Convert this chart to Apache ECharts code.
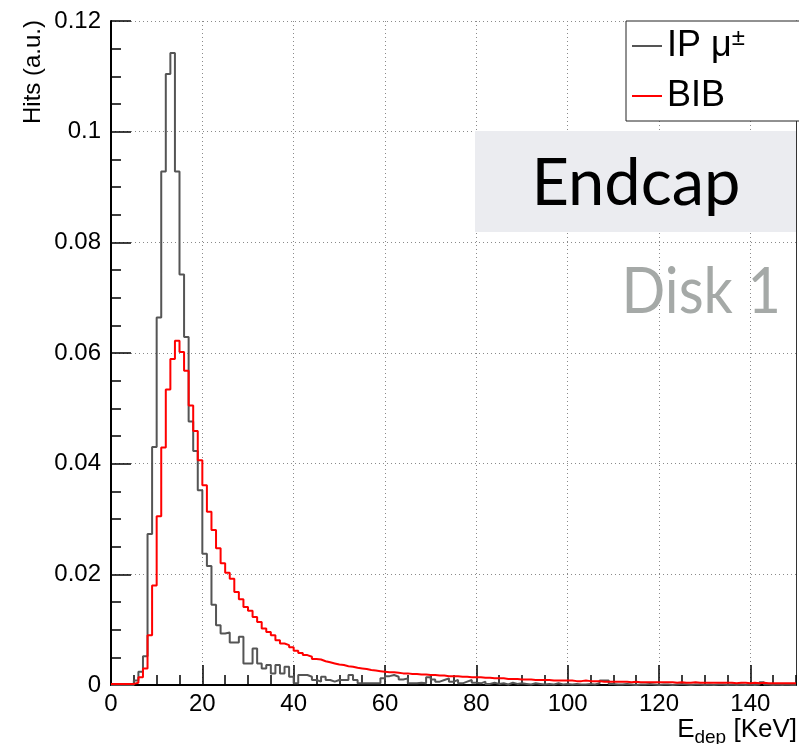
<!DOCTYPE html>
<html>
<head>
<meta charset="utf-8">
<script src="https://cdn.jsdelivr.net/npm/echarts@6/dist/echarts.min.js"></script>
<style>html,body{margin:0;padding:0;background:#fff}#c{width:799px;height:744px}</style>
</head>
<body>
<div id="c"></div>
<script>
// Bin lower edges (keV), bin width 1 keV, 0..150
const binWidth = 1;
const xTicks = [0, 20, 40, 60, 80, 100, 120, 140];
const yTicks = [0, 0.02, 0.04, 0.06, 0.08, 0.1, 0.12];
const seriesNames = ['IP μ±', 'BIB'];

// IP mu+- hits per bin (bins 0..149)
const ipValues = [
  0, 0, 0, 0, 0, 0.0008, 0.0024, 0.0052, 0.0273, 0.0430,
  0.0664, 0.0928, 0.1104, 0.1142, 0.0928, 0.0742, 0.0629, 0.0476, 0.0423, 0.0352,
  0.0237, 0.0215, 0.0145, 0.0108, 0.0093, 0.0095, 0.0077, 0.0077, 0.0087, 0.0039,
  0.0039, 0.0066, 0.0039, 0.0030, 0.0036, 0.0021, 0.0036, 0.0021, 0.0033, 0.0015,
  0.0003, 0.0018, 0.0018, 0.0015, 0.0009, 0.0006, 0.0015, 0.0009, 0.0006, 0.0009,
  0.0009, 0.0009, 0.0018, 0.0009, 0.0003, 0.0003, 0.0003, 0.0003, 0.0003, 0.0012,
  0.0016, 0.0018, 0.0015, 0.0010, 0.0012, 0.0003, 0.0003, 0.0004, 0.0003, 0.0014,
  0.0010, 0.0006, 0.0009, 0.0012, 0.0006, 0.0009, 0.0003, 0.0006, 0.0009, 0.0004,
  0.0003, 0.0006, 0.0002, 0.0004, 0.0002, 0.0003, 0.0001, 0.0004, 0.0002, 0.0003,
  0.0002, 0.0001, 0.0003, 0.0002, 0.0001, 0.0002, 0.0001, 0.0003, 0.0001, 0.0002,
  0.0001, 0.0002, 0.0001, 0.0001, 0.0002, 0.0001, 0.0003, 0.0008, 0.0008, 0.0002,
  0.0001, 0.0001, 0.0002, 0.0001, 0.0000, 0.0001, 0.0001, 0.0002, 0.0001, 0.0000,
  0.0001, 0.0001, 0.0000, 0.0001, 0.0002, 0.0001, 0.0000, 0.0001, 0.0001, 0.0000,
  0.0001, 0.0000, 0.0001, 0.0001, 0.0000, 0.0001, 0.0000, 0.0001, 0.0000, 0.0001,
  0.0000, 0.0001, 0.0005, 0.0001, 0.0000, 0.0001, 0.0000, 0.0001, 0.0000, 0.0000
];

// BIB hits per bin (bins 0..149)
const bibValues = [
  0.0002, 0.0002, 0.0002, 0.0002, 0.0002, 0.0004, 0.0014, 0.0030, 0.0090, 0.0180,
  0.0305, 0.0429, 0.0534, 0.0589, 0.0622, 0.0602, 0.0568, 0.0505, 0.0459, 0.0406,
  0.0361, 0.0313, 0.0280, 0.0247, 0.0220, 0.0203, 0.0192, 0.0168, 0.0155, 0.0141,
  0.0134, 0.0123, 0.0114, 0.0102, 0.0096, 0.0090, 0.0081, 0.0075, 0.0072, 0.0068,
  0.0062, 0.0058, 0.0054, 0.0051, 0.0047, 0.0046, 0.0043, 0.0041, 0.0039, 0.0037,
  0.0036, 0.0034, 0.0033, 0.0031, 0.0030, 0.0029, 0.0027, 0.0026, 0.0025, 0.0024,
  0.0023, 0.0023, 0.0022, 0.0021, 0.0021, 0.0020, 0.0020, 0.0019, 0.0019, 0.0018,
  0.0018, 0.0017, 0.0017, 0.0016, 0.0016, 0.0016, 0.0015, 0.0015, 0.0014, 0.0014,
  0.0014, 0.0013, 0.0013, 0.0012, 0.0012, 0.0012, 0.0011, 0.0011, 0.0011, 0.0010,
  0.0010, 0.0010, 0.0009, 0.0009, 0.0009, 0.0009, 0.0008, 0.0008, 0.0008, 0.0008,
  0.0008, 0.0007, 0.0007, 0.0008, 0.0007, 0.0007, 0.0007, 0.0006, 0.0006, 0.0006,
  0.0006, 0.0006, 0.0006, 0.0005, 0.0006, 0.0005, 0.0005, 0.0005, 0.0005, 0.0005,
  0.0005, 0.0005, 0.0005, 0.0004, 0.0005, 0.0004, 0.0004, 0.0005, 0.0004, 0.0004,
  0.0004, 0.0004, 0.0004, 0.0004, 0.0004, 0.0004, 0.0003, 0.0004, 0.0004, 0.0003,
  0.0004, 0.0003, 0.0004, 0.0003, 0.0003, 0.0003, 0.0003, 0.0003, 0.0003, 0.0003
];

function toSteps(vals) {
  const pts = vals.map((v, i) => [i * binWidth, v]);
  pts.push([vals.length * binWidth, vals[vals.length - 1]]);
  return pts;
}

const FONT = '"Liberation Sans", Arial, Helvetica, sans-serif';
const chart = echarts.init(document.getElementById('c'), null, {renderer: 'canvas'});

const gridDash = {type: [1, 3], color: '#8a8a8a', width: 1};

chart.setOption({
  animation: false,
  backgroundColor: '#fff',
  grid: {left: 111, right: 3, top: 21, bottom: 59, containLabel: false},
  xAxis: [
    {
      type: 'value', min: 0, max: 150, interval: 20, position: 'bottom',
      axisLine: {show: true, onZero: false, lineStyle: {color: '#000', width: 2}},
      axisTick: {show: true, inside: true, length: 20, lineStyle: {color: '#000', width: 1.5}},
      axisLabel: {show: true, margin: 7, fontSize: 24, color: '#000', fontFamily: FONT,
        showMaxLabel: false,
        formatter: v => (xTicks.indexOf(v) >= 0 ? String(v) : '')},
      splitLine: {show: true, lineStyle: gridDash}
    },
    {
      type: 'value', min: 0, max: 150, interval: 5, position: 'bottom',
      axisLine: {show: false},
      axisTick: {show: true, inside: true, length: 10, lineStyle: {color: '#000', width: 1.5}},
      axisLabel: {show: false},
      splitLine: {show: false}
    }
  ],
  yAxis: [
    {
      type: 'value', min: 0, max: 0.12, interval: 0.02, position: 'left',
      axisLine: {show: true, onZero: false, lineStyle: {color: '#000', width: 2}},
      axisTick: {show: true, inside: true, length: 20, lineStyle: {color: '#000', width: 1.5}},
      axisLabel: {show: true, margin: 10, fontSize: 24, color: '#000', fontFamily: FONT,
        formatter: v => {
          const t = yTicks.find(k => Math.abs(k - v) < 1e-9);
          return t === undefined ? '' : String(t);
        }},
      splitLine: {show: true, lineStyle: gridDash}
    },
    {
      type: 'value', min: 0, max: 0.12, interval: 0.005, position: 'left',
      axisLine: {show: false},
      axisTick: {show: true, inside: true, length: 10, lineStyle: {color: '#000', width: 1.5}},
      axisLabel: {show: false},
      splitLine: {show: false}
    },
    {
      type: 'value', min: 0, max: 0.12, position: 'right',
      axisLine: {show: true, onZero: false, lineStyle: {color: '#333', width: 1}},
      axisTick: {show: false}, axisLabel: {show: false}, splitLine: {show: false}
    }
  ],
  legend: {
    show: true, orient: 'vertical', left: 626, top: 21,
    backgroundColor: '#fff', borderColor: '#222', borderWidth: 1, borderRadius: 0,
    padding: [5, 72, 5, 6], itemWidth: 30, itemHeight: 2, itemGap: 10, icon: 'rect',
    data: seriesNames,
    formatter: n => (n === 'IP μ±' ? 'IP μ{sup|±}' : n),
    textStyle: {fontSize: 36, lineHeight: 40, color: '#000', fontFamily: FONT,
      rich: {sup: {fontSize: 24, lineHeight: 40, verticalAlign: 'top', color: '#000', fontFamily: FONT, padding: [0, 0, 12, 0]}}},
    z: 50
  },
  graphic: [
    {type: 'rect', z: 40, shape: {x: 475, y: 131, width: 321, height: 101}, style: {fill: '#ebecf0'}},
    {type: 'text', z: 41, x: 636, y: 184, style: {text: 'Endcap', fill: '#000', font: '400 65px Lato, "Open Sans", sans-serif', textAlign: 'center', textVerticalAlign: 'middle'}},
    {type: 'text', z: 41, x: 781, y: 292, scaleX: 0.9, style: {text: 'Disk 1', fill: '#a5a9a7', font: '400 64px Lato, "Open Sans", sans-serif', textAlign: 'right', textVerticalAlign: 'middle'}},
    {type: 'text', z: 41, x: 33, y: 20, rotation: Math.PI / 2, style: {text: 'Hits (a.u.)', fill: '#000', font: '24px ' + FONT, textAlign: 'right', textVerticalAlign: 'middle'}},
    {type: 'text', z: 41, x: 797, y: 730, style: {
      text: 'E{sub|dep} [KeV]', fill: '#000', font: '26px ' + FONT, textAlign: 'right', textVerticalAlign: 'middle',
      rich: {sub: {fontSize: 19, fontFamily: FONT, fill: '#000', verticalAlign: 'bottom', padding: [16, 0, 0, 0]}}
    }}
  ],
  series: [
    {
      name: 'IP μ±', type: 'line', step: 'end', xAxisIndex: 0, yAxisIndex: 0,
      data: toSteps(ipValues), showSymbol: false, symbol: 'none',
      lineStyle: {color: '#555555', width: 2}, itemStyle: {color: '#555555'}, z: 5
    },
    {
      name: 'BIB', type: 'line', step: 'end', xAxisIndex: 0, yAxisIndex: 0,
      data: toSteps(bibValues), showSymbol: false, symbol: 'none',
      lineStyle: {color: '#ff0000', width: 2}, itemStyle: {color: '#ff0000'}, z: 6
    }
  ]
});
</script>
</body>
</html>
